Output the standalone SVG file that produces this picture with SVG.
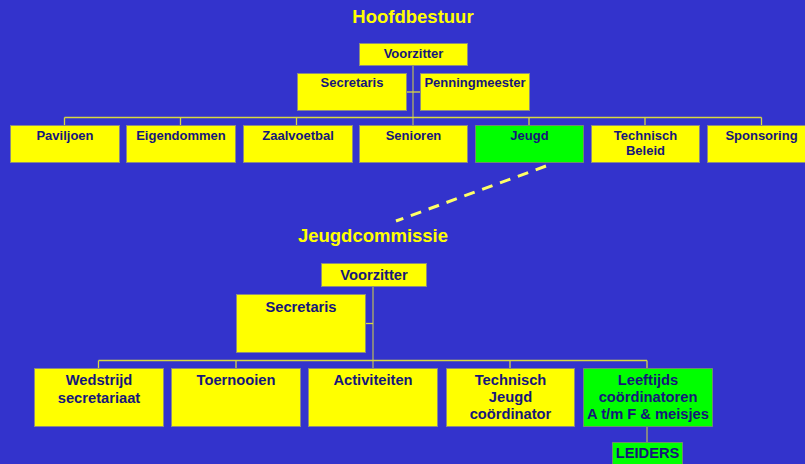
<svg xmlns="http://www.w3.org/2000/svg" width="805" height="464" viewBox="0 0 805 464">
<style>
.bg{fill:#3333CC}
.y{fill:#FFFF00;stroke:#8C8C80;stroke-width:1}
.g{fill:#00FF00;stroke:#6C8C70;stroke-width:1}
.t{font-family:"Liberation Sans",Arial,sans-serif;font-weight:bold;fill:#16167A;text-anchor:middle}
.s{font-size:13px}
.m{font-size:14.7px}
.title{font-family:"Liberation Sans",Arial,sans-serif;font-weight:bold;font-size:18.5px;fill:#FFFF00;text-anchor:middle}
.bus{stroke:#D8D840;stroke-width:1.3;fill:none}
.v{stroke:#A0A070;stroke-width:1.5;fill:none}
.dash{stroke:#FFFF66;stroke-width:3;stroke-dasharray:11 8;fill:none}
</style>
<rect class="bg" x="0" y="0" width="805" height="464"/>
<text class="title" x="413" y="23">Hoofdbestuur</text>
<text class="title" x="373" y="242">Jeugdcommissie</text>
<g id="connectors">
<path class="v" d="M413 65V125"/>
<path class="bus" d="M406 92H420"/>
<path class="bus" d="M64.5 117.5H761.5M64.5 117.5V125M180.5 117.5V125M296.5 117.5V125M529 117.5V125M645 117.5V125M761.5 117.5V125"/>
<path class="dash" d="M546 166L396 221"/>
<path class="v" d="M373 286V368"/>
<path class="bus" d="M365 323.5H373"/>
<path class="bus" d="M98.5 360.5H647M98.5 360.5V368M236 360.5V368M510 360.5V368M647 360.5V368"/>
<path class="v" d="M647 426V442"/>
</g>
<g id="hb-voorzitter"><rect class="y" x="359.5" y="43.5" width="108" height="22"/><text class="t s" x="413.5" y="58">Voorzitter</text></g>
<g id="hb-secretaris"><rect class="y" x="297.5" y="73.5" width="109" height="37"/><text class="t s" x="352" y="87">Secretaris</text></g>
<g id="hb-penningmeester"><rect class="y" x="420.5" y="73.5" width="109" height="37"/><text class="t s" x="475" y="87">Penningmeester</text></g>
<g id="paviljoen"><rect class="y" x="10.5" y="125.5" width="109" height="37"/><text class="t s" x="65" y="140">Paviljoen</text></g>
<g id="eigendommen"><rect class="y" x="126.5" y="125.5" width="109" height="37"/><text class="t s" x="181" y="140">Eigendommen</text></g>
<g id="zaalvoetbal"><rect class="y" x="243.5" y="125.5" width="109" height="37"/><text class="t s" x="298" y="140">Zaalvoetbal</text></g>
<g id="senioren"><rect class="y" x="359.5" y="125.5" width="108" height="37"/><text class="t s" x="413.5" y="140">Senioren</text></g>
<g id="jeugd"><rect class="g" x="475.5" y="125.5" width="108" height="37"/><text class="t s" x="529.5" y="140">Jeugd</text></g>
<g id="technisch-beleid"><rect class="y" x="591.5" y="125.5" width="108" height="37"/><text class="t s" x="645.5" y="140">Technisch</text><text class="t s" x="645.5" y="155">Beleid</text></g>
<g id="sponsoring"><rect class="y" x="707.5" y="125.5" width="108" height="37"/><text class="t s" x="761.5" y="140">Sponsoring</text></g>
<g id="jc-voorzitter"><rect class="y" x="321.5" y="263.5" width="105" height="23"/><text class="t m" x="374" y="280">Voorzitter</text></g>
<g id="jc-secretaris"><rect class="y" x="236.5" y="294.5" width="129" height="58"/><text class="t m" x="301" y="312">Secretaris</text></g>
<g id="wedstrijd"><rect class="y" x="34.5" y="368.5" width="129" height="58"/><text class="t m" x="99" y="385">Wedstrijd</text><text class="t m" x="99" y="403">secretariaat</text></g>
<g id="toernooien"><rect class="y" x="171.5" y="368.5" width="129" height="58"/><text class="t m" x="236" y="385">Toernooien</text></g>
<g id="activiteiten"><rect class="y" x="308.5" y="368.5" width="129" height="58"/><text class="t m" x="373" y="385">Activiteiten</text></g>
<g id="technisch-jeugd"><rect class="y" x="446.5" y="368.5" width="128" height="58"/><text class="t m" x="510.5" y="385">Technisch</text><text class="t m" x="510.5" y="402">Jeugd</text><text class="t m" x="510.5" y="419">coördinator</text></g>
<g id="leeftijds"><rect class="g" x="583.5" y="368.5" width="129" height="58"/><text class="t m" x="648" y="385">Leeftijds</text><text class="t m" x="648" y="402">coördinatoren</text><text class="t m" x="648" y="419">A t/m F &amp; meisjes</text></g>
<g id="leiders"><rect class="g" x="612.5" y="442.5" width="70" height="30"/><text class="t m" x="647.5" y="458">LEIDERS</text></g>
</svg>
